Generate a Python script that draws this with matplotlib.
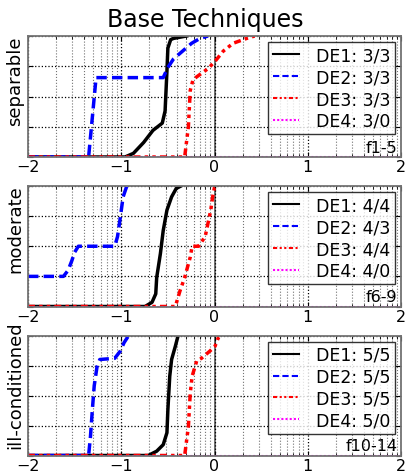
import numpy as np
import matplotlib
matplotlib.use("Agg")
import matplotlib.pyplot as plt

# panel meta
panel_names = ["separable", "moderate", "ill-conditioned"]
panel_funcs = ["f1-5", "f6-9", "f10-14"]
legend_counts = [
    ["3/3", "3/3", "3/3", "3/0"],
    ["4/4", "4/3", "4/4", "4/0"],
    ["5/5", "5/5", "5/5", "5/0"],
]
algorithms = ["DE1", "DE2", "DE3", "DE4"]

# separable (f1-5)
sep_de1_x = [-2, -0.96, -0.87, -0.76, -0.66, -0.56, -0.53, -0.51, -0.50, -0.47, -0.44, -0.30]
sep_de1_y = [0, 0, 0.03, 0.12, 0.22, 0.28, 0.38, 0.71, 0.90, 0.97, 0.98, 1.0]
sep_de2_x = [-2, -1.35, -1.30, -1.27, -0.55, -0.50, -0.44, -0.35, -0.245, -0.155, -0.07]
sep_de2_y = [0, 0, 0.41, 0.656, 0.656, 0.74, 0.81, 0.87, 0.94, 0.98, 1.0]
sep_de3_x = [-2, -0.32, -0.28, -0.26, -0.23, -0.16, -0.07, 0.005, 0.094, 0.20, 0.345, 0.43]
sep_de3_y = [0, 0, 0.25, 0.55, 0.64, 0.68, 0.73, 0.79, 0.875, 0.94, 0.98, 1.0]

# moderate (f6-9)
mod_de1_x = [-2, -0.745, -0.67, -0.63, -0.62, -0.58, -0.55, -0.51, -0.46, -0.41, -0.36]
mod_de1_y = [0, 0, 0.035, 0.105, 0.24, 0.44, 0.63, 0.80, 0.91, 0.98, 1.0]
mod_de2_x = [-2, -1.62, -1.57, -1.53, -1.50, -1.46, -1.07, -1.04, -1.01, -0.98, -0.94]
mod_de2_y = [0.25, 0.25, 0.30, 0.38, 0.45, 0.50, 0.50, 0.58, 0.74, 0.91, 1.0]
mod_de3_x = [-2, -0.42, -0.37, -0.32, -0.26, -0.24, -0.17, -0.10, -0.07, -0.04, -0.02, 0.0, 0.02]
mod_de3_y = [0, 0, 0.13, 0.24, 0.41, 0.50, 0.50, 0.58, 0.69, 0.80, 0.91, 0.99, 1.0]

# ill-conditioned (f10-14)
ill_de1_x = [-2, -0.71, -0.62, -0.55, -0.51, -0.50, -0.48, -0.46, -0.42, -0.39]
ill_de1_y = [0, 0, 0.036, 0.09, 0.19, 0.38, 0.66, 0.80, 0.91, 1.0]
ill_de2_x = [-2, -1.35, -1.33, -1.31, -1.29, -1.26, -1.23, -1.07, -1.01, -0.97, -0.92]
ill_de2_y = [0, 0, 0.16, 0.38, 0.58, 0.74, 0.80, 0.81, 0.87, 0.94, 1.0]
ill_de3_x = [-2, -0.32, -0.28, -0.26, -0.24, -0.19, -0.14, -0.05, 0.005, 0.04, 0.08]
ill_de3_y = [0, 0, 0.24, 0.52, 0.66, 0.79, 0.81, 0.87, 0.91, 0.98, 1.0]

# DE4 never solves anything
de4_x = [-2, 2]
de4_y = [0, 0]

panels = [
    [(sep_de1_x, sep_de1_y), (sep_de2_x, sep_de2_y), (sep_de3_x, sep_de3_y), (de4_x, de4_y)],
    [(mod_de1_x, mod_de1_y), (mod_de2_x, mod_de2_y), (mod_de3_x, mod_de3_y), (de4_x, de4_y)],
    [(ill_de1_x, ill_de1_y), (ill_de2_x, ill_de2_y), (ill_de3_x, ill_de3_y), (de4_x, de4_y)],
]

styles = [
    dict(color="black", linestyle="-"),
    dict(color="#0000ff", linestyle=(0, (3, 1.5))),
    dict(color="#ff0000", linestyle=(0, (2, 1.2, 1, 1.2, 1, 1.2))),
    dict(color="#ff00ff", linestyle=(0, (1, 1))),
]

W, H = 411, 477
fig = plt.figure(figsize=(W / 100, H / 100), dpi=100)

# axes boxes in pixels: (top, bottom)
boxes = [(37, 158), (187, 307.5), (336.5, 456.5)]
left_px, right_px = 28, 401

minor_x = [n + np.log10(k) for n in range(-2, 2) for k in range(2, 10)]

for i, (top, bot) in enumerate(boxes):
    ax = fig.add_axes([left_px / W, 1 - bot / H, (right_px - left_px) / W, (bot - top) / H])
    for j, (xs, ys) in enumerate(panels[i]):
        ax.plot(xs, ys, lw=2.5 if j < 3 else 1.5,
                label=f"{algorithms[j]}: {legend_counts[i][j]}", **styles[j])
    ax.set_xlim(-2, 2)
    ax.set_ylim(0, 1)
    ax.set_xticks([-2, -1, 0, 1, 2])
    ax.set_xticks(minor_x, minor=True)
    ax.set_yticks([0, 0.25, 0.5, 0.75, 1])
    ax.set_yticklabels([])
    ax.tick_params(axis="both", which="both", direction="in", top=True, right=True,
                   labelsize=11.5, pad=1.5)
    ax.tick_params(which="minor", length=2)
    ax.grid(True, which="major", linestyle=":", color="black", lw=0.9)
    ax.grid(True, which="minor", axis="x", linestyle=":", color="0.45", lw=0.8)
    ax.axvline(0, color="0.35", lw=1.2, zorder=1)
    for sp in ax.spines.values():
        sp.set_color("0.45")
        sp.set_linewidth(1.3)
    leg = ax.legend(loc="upper right", fontsize=12.5, frameon=True, fancybox=False,
                    borderpad=0.25, labelspacing=0.22, handlelength=1.5,
                    handletextpad=1.0, borderaxespad=0.35)
    leg.get_frame().set_edgecolor("black")
    leg.get_frame().set_linewidth(1.0)
    for line in leg.get_lines():
        line.set_linewidth(1.5)
    ax.text(0.99, 0.02, panel_funcs[i], transform=ax.transAxes, ha="right",
            va="bottom", fontsize=11.5, zorder=6)

label_centres = [81, 229, 385]
for name, yc in zip(panel_names, label_centres):
    fig.text(15 / W, 1 - yc / H, name, rotation=90, ha="center", va="center", fontsize=13)

fig.text(0.5, 1 - 20 / H, "Base Techniques", ha="center", va="center", fontsize=17)

fig.savefig("out.png", dpi=100)
